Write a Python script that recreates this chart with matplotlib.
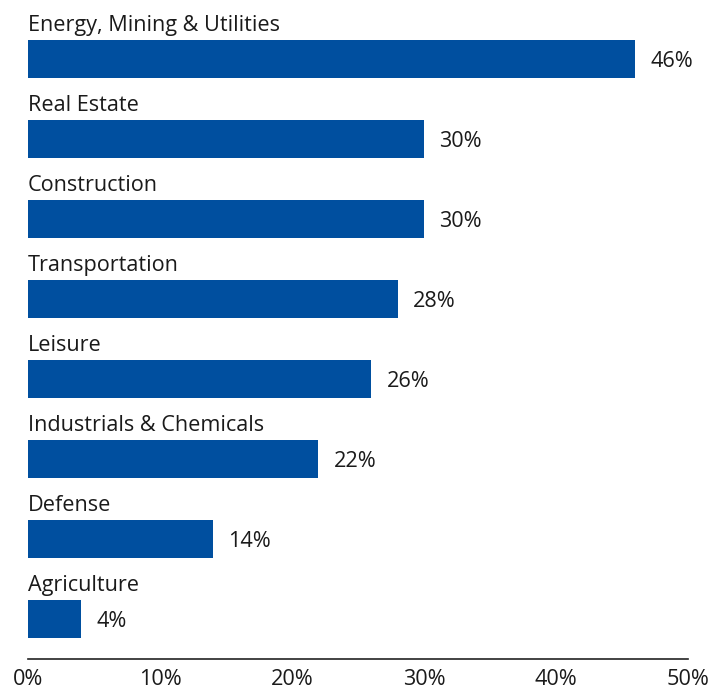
import matplotlib
matplotlib.use("Agg")
import matplotlib.pyplot as plt
from matplotlib.ticker import FuncFormatter

categories = ["Energy, Mining & Utilities", "Real Estate", "Construction",
              "Transportation", "Leisure", "Industrials & Chemicals",
              "Defense", "Agriculture"]
values = [46, 30, 30, 28, 26, 22, 14, 4]
x_ticks = [0, 10, 20, 30, 40, 50]

bar_color = "#004f9f"
text_color = "#1a1a1a"
plt.rcParams["font.family"] = ["Open Sans", "DejaVu Sans"]
fs = 15.6

fig = plt.figure(figsize=(7.18, 6.89), dpi=100)
ax = fig.add_axes([28 / 718, 1 - 659 / 689, 660 / 718, 659 / 689])

n = len(categories)
ypos = [n - 1 - i for i in range(n)]
bar_h = 0.475
ax.barh(ypos, values, height=bar_h, color=bar_color, zorder=2)

for y, cat, v in zip(ypos, categories, values):
    ax.text(0, y + bar_h / 2 + 0.115, cat, ha="left", va="baseline",
            fontsize=fs, color=text_color)
    ax.annotate(f"{v}%", xy=(v, y), xytext=(11, -1.8), textcoords="offset points",
                ha="left", va="center", fontsize=fs, color=text_color)

ax.set_xlim(0, 50)
ax.set_ylim(-0.5, n - 1 + 0.7375)
ax.set_xticks(x_ticks)
ax.xaxis.set_major_formatter(FuncFormatter(lambda v, p: f"{int(v)}%"))
ax.tick_params(axis="x", length=0, pad=7.5, labelsize=fs, labelcolor=text_color)
ax.set_yticks([])
for s in ["top", "right", "left"]:
    ax.spines[s].set_visible(False)
ax.spines["bottom"].set_color("#222222")
ax.spines["bottom"].set_linewidth(1.2)

fig.savefig("out.png", dpi=100)
